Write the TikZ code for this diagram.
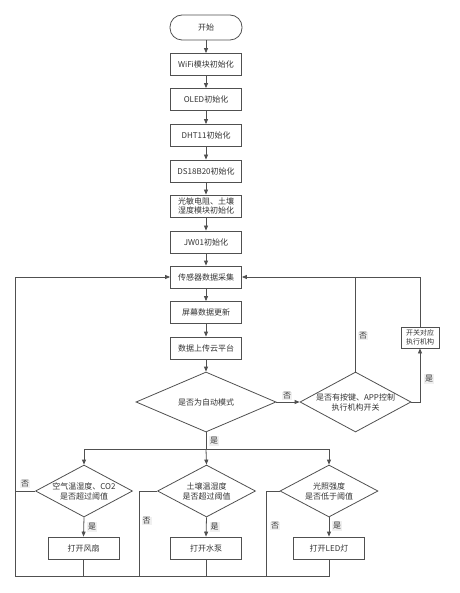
\documentclass[tikz,border=0pt]{standalone}
\usepackage{fontspec}
\setmainfont{Noto Sans CJK SC}
\usetikzlibrary{shapes.geometric,arrows.meta}
\definecolor{linec}{HTML}{505050}
\definecolor{textc}{HTML}{333333}
\begin{document}
\begin{tikzpicture}[x=1pt,y=-1pt,
  every node/.style={text=textc},
  box/.style={draw=linec, line width=0.8pt, rectangle, minimum width=71pt, minimum height=22pt, inner sep=1pt, align=center, font=\fontsize{8}{10}\selectfont},
  startbox/.style={box, minimum width=72pt, minimum height=25pt, rounded corners=12pt},
  dec/.style={draw=linec, line width=0.8pt, diamond, inner sep=0pt},
  dtext/.style={align=center, font=\fontsize{8}{10}\selectfont, inner sep=0pt},
  lbl/.style={fill=black!6, inner sep=1pt, font=\fontsize{8}{9}\selectfont},
  conn/.style={draw=linec, line width=0.8pt},
  arr/.style={conn, -{Triangle[length=5pt,width=4pt]}}
]
\useasboundingbox (0,0) rectangle (459,593);
% main column
\node[startbox] (st) at (206,27.5) {开始};
\node[box] (wifi) at (206,64.5) {WiFi模块初始化};
\node[box] (oled) at (206,99.5) {OLED初始化};
\node[box] (dht) at (206,135.5) {DHT11初始化};
\node[box] (ds) at (206,171) {DS18B20初始化};
\node[box, font=\fontsize{8}{9.5}\selectfont] (gm) at (206,206) {光敏电阻、土壤\\湿度模块初始化};
\node[box] (jw) at (206,242) {JW01初始化};
\node[box] (cg) at (206,277) {传感器数据采集};
\node[box] (pm) at (206,312.5) {屏幕数据更新};
\node[box] (sc) at (206,348) {数据上传云平台};
% decisions
\node[dec, minimum width=140pt, minimum height=60pt] (d1) at (206,402) {};
\node[dtext] (t1) at (d1.center) {是否为自动模式};
\node[dec, minimum width=111pt, minimum height=60pt] (d2) at (355.5,402) {};
\node[dtext] (t2) at (d2.center) {是否有按键、APP控制\\执行机构开关};
\node[box, minimum width=38pt, minimum height=21pt, font=\fontsize{7}{8.5}\selectfont] (kg) at (420,337.5) {开关对应\\执行机构};
\node[dec, minimum width=97pt, minimum height=52pt] (dA) at (84,491) {};
\node[dtext] (tA) at (dA.center) {空气温湿度、CO2\\是否超过阈值};
\node[dec, minimum width=98pt, minimum height=52pt] (dB) at (206.5,491) {};
\node[dtext] (tB) at (dB.center) {土壤温湿度\\是否超过阈值};
\node[dec, minimum width=98pt, minimum height=52pt] (dC) at (329,491) {};
\node[dtext] (tC) at (dC.center) {光照强度\\是否低于阈值};
\node[box] (fA) at (83.5,548) {打开风扇};
\node[box] (fB) at (206,548) {打开水泵};
\node[box] (fC) at (329,548) {打开LED灯};
% helper coordinates
\coordinate (j) at (206,449);
\coordinate (b) at (15,576.7);
\coordinate (bB) at (139.3,576.7);
\coordinate (bC) at (266.7,576.7);
% main chain
\draw[arr] (st) -- (wifi);
\draw[arr] (wifi) -- (oled);
\draw[arr] (oled) -- (dht);
\draw[arr] (dht) -- (ds);
\draw[arr] (ds) -- (gm);
\draw[arr] (gm) -- (jw);
\draw[arr] (jw) -- (cg);
\draw[arr] (cg) -- (pm);
\draw[arr] (pm) -- (sc);
\draw[arr] (sc) -- (d1);
% manual branch
\draw[arr] (d1.east) -- (d2.west);
\node[lbl] (l1) at (287,396) {否};
\draw[arr] (d2.east) -| (kg.south);
\node[lbl] (l2) at (429,379) {是};
\draw[arr] (kg.north) |- (cg.east);
\draw[conn] (d2.north) -- (d2.north |- cg.east);
\node[lbl] (l3) at (363,336) {否};
% auto branch
\draw[conn] (d1.south) -- (j);
\node[lbl] (l4) at (214,441) {是};
\draw[arr] (j) -- (dB.north);
\draw[arr] (j) -| (dA.north);
\draw[arr] (j) -| (dC.north);
\draw[arr] (dA.south) -- (fA.north);
\draw[arr] (dB.south) -- (fB.north);
\draw[arr] (dC.south) -- (fC.north);
\node[lbl] (l5) at (92,527) {是};
\node[lbl] (l6) at (214.5,527) {是};
\node[lbl] (l7) at (337,526) {是};
% return loop
\draw[arr] (fC.south) |- (b) |- (cg.west);
\draw[conn] (fA.south) -- (fA.south |- b);
\draw[conn] (fB.south) -- (fB.south |- b);
\draw[conn] (dA.west) -- (dA.west -| b);
\node[lbl] (l8) at (25,484) {否};
\draw[conn] (dB.west) -| (bB);
\node[lbl] (l9) at (146.7,521) {否};
\draw[conn] (dC.west) -| (bC);
\node[lbl] (l10) at (275,526) {否};
\end{tikzpicture}
\end{document}
